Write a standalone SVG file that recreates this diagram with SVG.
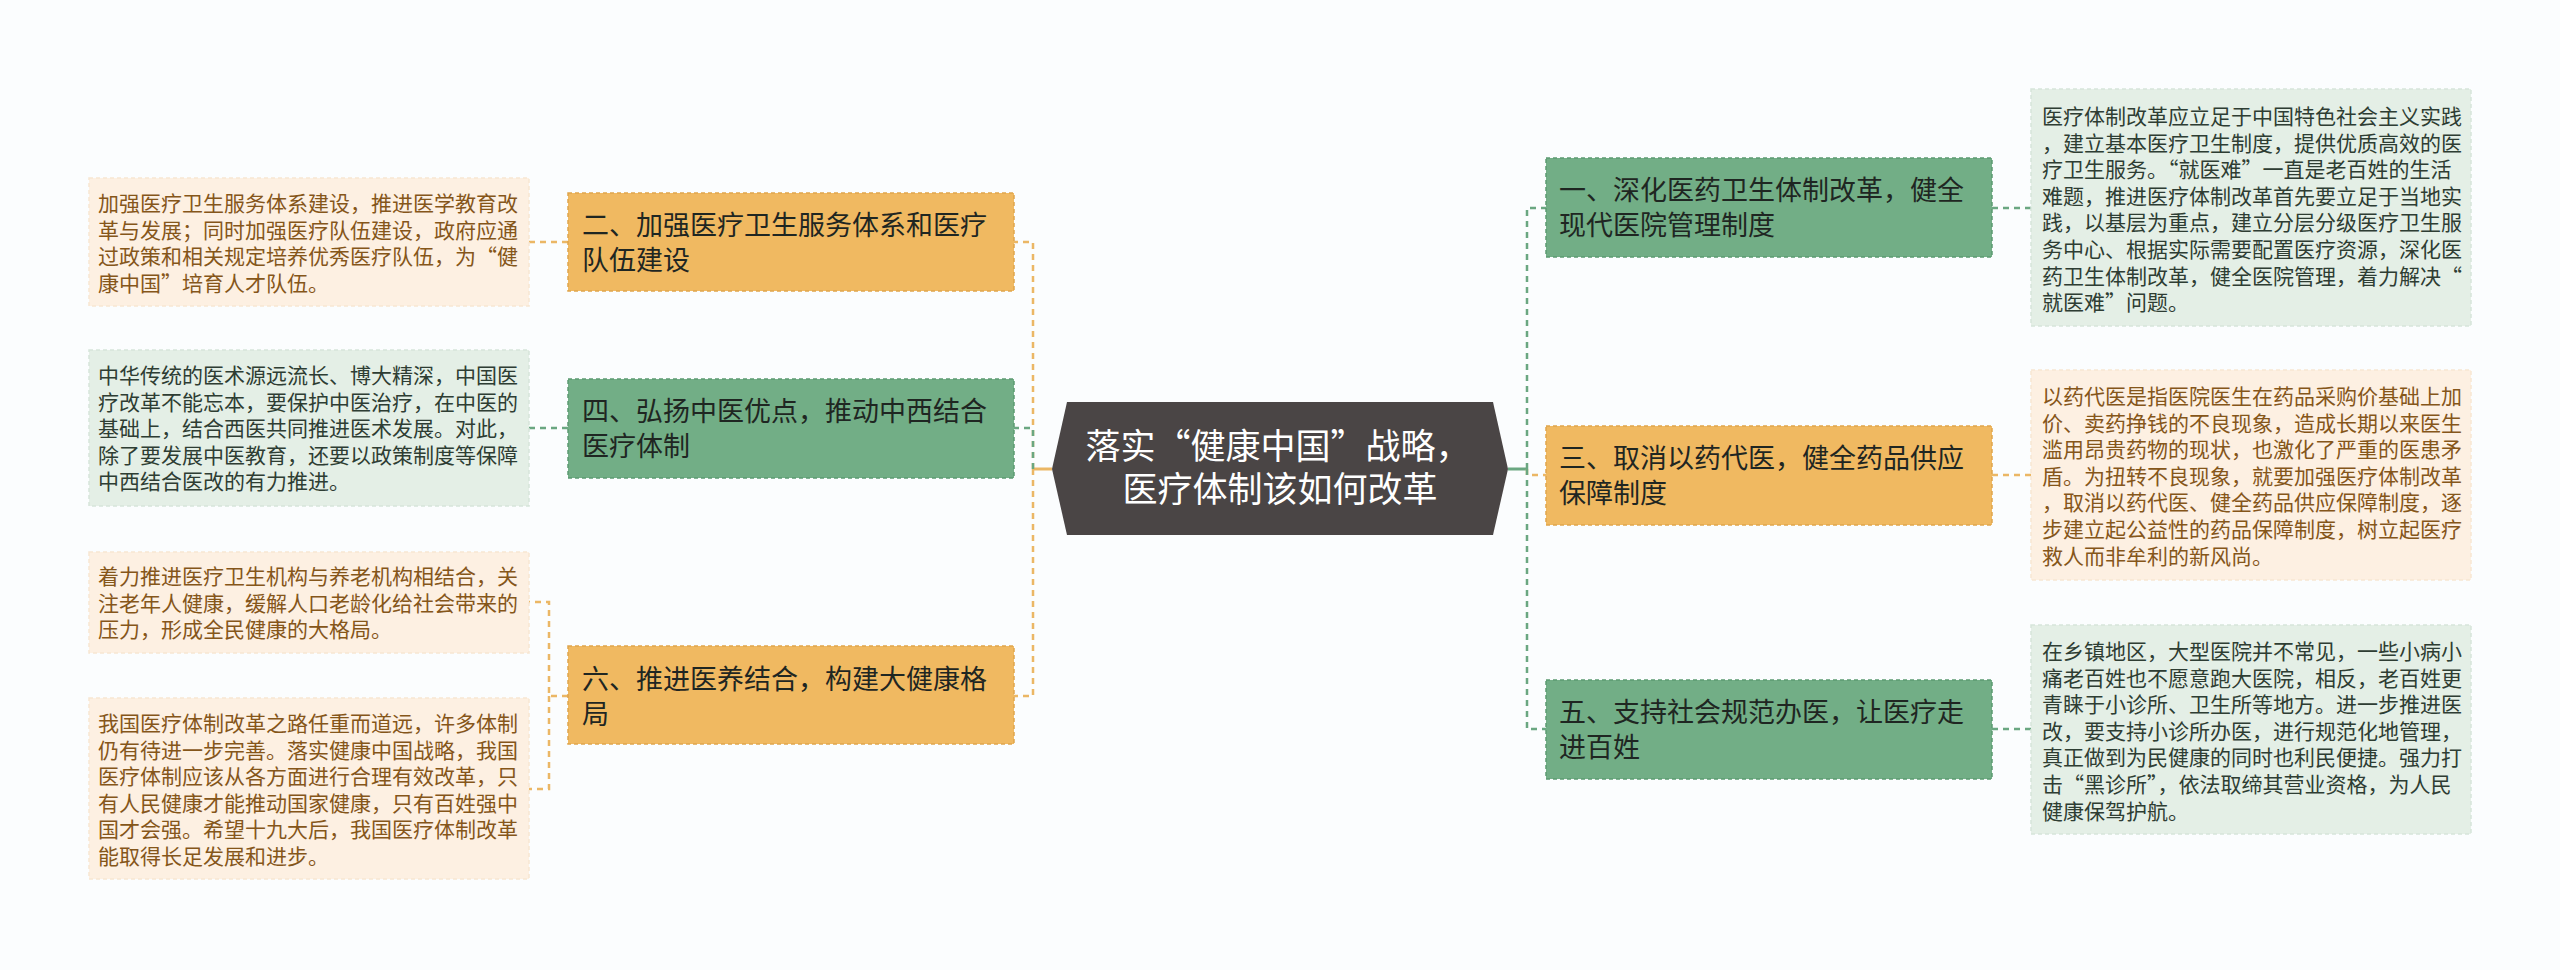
<svg xmlns="http://www.w3.org/2000/svg" width="2560" height="970" viewBox="0 0 2560 970">
<style>
text{font-family:"Noto Sans CJK SC","Noto Sans",sans-serif;}
.mo{fill:#F0B961;stroke:#DFA54C;stroke-width:1.5;stroke-dasharray:4 3;}
.mg{fill:#72AE86;stroke:#5C9A72;stroke-width:1.5;stroke-dasharray:4 3;}
.lo{fill:#FDF0E2;stroke:#F7E6D2;stroke-width:1.5;stroke-dasharray:4 3;}
.lg{fill:#E4EFE6;stroke:#D6E5DA;stroke-width:1.5;stroke-dasharray:4 3;}
.mt{font-size:27px;fill:#1F2622;}
.lto{font-size:21px;fill:#85561A;}
.ltg{font-size:21px;fill:#2E3D33;}
.ct{font-size:35px;fill:#FFFFFF;text-anchor:middle;}
.co{fill:none;stroke:#EBB765;stroke-width:2.5;stroke-dasharray:6 5;}
.cg{fill:none;stroke:#6AA781;stroke-width:2.5;stroke-dasharray:6 5;}
.so{fill:none;stroke:#EBB765;stroke-width:3;}
.sg{fill:none;stroke:#6AA781;stroke-width:3;}
</style>
<rect width="2560" height="970" fill="#FBFDFE"/>
<g id="connectors">
<path class="so" d="M1052,469 H1033"/>
<path class="co" d="M1033,469 V242 H1014"/>
<path class="co" d="M1033,469 V696 H1014"/>
<path class="cg" d="M1033,469 V428 H1014"/>
<path class="co" d="M568,242 H529"/>
<path class="cg" d="M568,428 H529"/>
<path class="co" d="M568,696 H549 V602 H529"/>
<path class="co" d="M549,696 V789 H529"/>
<path class="sg" d="M1508,469 H1527"/>
<path class="co" d="M1527,469 V475 H1546"/>
<path class="cg" d="M1527,469 V208 H1546"/>
<path class="cg" d="M1527,469 V729 H1546"/>
<path class="cg" d="M1992,208 H2031"/>
<path class="co" d="M1992,475 H2031"/>
<path class="cg" d="M1992,729 H2031"/>
</g>
<g id="center">
<polygon points="1052,469 1067,402 1493,402 1508,469 1493,535 1067,535" fill="#4A4545"/>
<text class="ct"><tspan x="1278" y="459">落实“健康中国”战略，</tspan><tspan x="1280" y="502">医疗体制该如何改革</tspan></text>
</g>
<g id="n2">
<rect class="mo" x="568" y="193" width="446" height="98"/>
<text class="mt"><tspan x="582" y="235">二、加强医疗卫生服务体系和医疗</tspan><tspan x="582" y="270">队伍建设</tspan></text>
</g>
<g id="n2-leaf">
<rect class="lo" x="89" y="178" width="440" height="128"/>
<text class="lto"><tspan x="98" y="211">加强医疗卫生服务体系建设，推进医学教育改</tspan><tspan x="98" y="237.6">革与发展；同时加强医疗队伍建设，政府应通</tspan><tspan x="98" y="264.2">过政策和相关规定培养优秀医疗队伍，为“健</tspan><tspan x="98" y="290.8">康中国”培育人才队伍。</tspan></text>
</g>
<g id="n4">
<rect class="mg" x="568" y="379" width="446" height="99"/>
<text class="mt"><tspan x="582" y="421">四、弘扬中医优点，推动中西结合</tspan><tspan x="582" y="456">医疗体制</tspan></text>
</g>
<g id="n4-leaf">
<rect class="lg" x="89" y="350" width="440" height="156"/>
<text class="ltg"><tspan x="98" y="383">中华传统的医术源远流长、博大精深，中国医</tspan><tspan x="98" y="409.6">疗改革不能忘本，要保护中医治疗，在中医的</tspan><tspan x="98" y="436.2">基础上，结合西医共同推进医术发展。对此，</tspan><tspan x="98" y="462.8">除了要发展中医教育，还要以政策制度等保障</tspan><tspan x="98" y="489.4">中西结合医改的有力推进。</tspan></text>
</g>
<g id="n6">
<rect class="mo" x="568" y="646" width="446" height="98"/>
<text class="mt"><tspan x="582" y="689">六、推进医养结合，构建大健康格</tspan><tspan x="582" y="724">局</tspan></text>
</g>
<g id="n6-leaf1">
<rect class="lo" x="89" y="552" width="440" height="101"/>
<text class="lto"><tspan x="98" y="584">着力推进医疗卫生机构与养老机构相结合，关</tspan><tspan x="98" y="610.6">注老年人健康，缓解人口老龄化给社会带来的</tspan><tspan x="98" y="637.2">压力，形成全民健康的大格局。</tspan></text>
</g>
<g id="n6-leaf2">
<rect class="lo" x="89" y="698" width="440" height="181"/>
<text class="lto"><tspan x="98" y="731">我国医疗体制改革之路任重而道远，许多体制</tspan><tspan x="98" y="757.6">仍有待进一步完善。落实健康中国战略，我国</tspan><tspan x="98" y="784.2">医疗体制应该从各方面进行合理有效改革，只</tspan><tspan x="98" y="810.8">有人民健康才能推动国家健康，只有百姓强中</tspan><tspan x="98" y="837.4">国才会强。希望十九大后，我国医疗体制改革</tspan><tspan x="98" y="864">能取得长足发展和进步。</tspan></text>
</g>
<g id="n1">
<rect class="mg" x="1546" y="158" width="446" height="99"/>
<text class="mt"><tspan x="1559" y="200">一、深化医药卫生体制改革，健全</tspan><tspan x="1559" y="235">现代医院管理制度</tspan></text>
</g>
<g id="n1-leaf">
<rect class="lg" x="2031" y="89" width="440" height="237"/>
<text class="ltg"><tspan x="2042" y="124">医疗体制改革应立足于中国特色社会主义实践</tspan><tspan x="2042" y="150.6">，建立基本医疗卫生制度，提供优质高效的医</tspan><tspan x="2042" y="177.2">疗卫生服务。“就医难”一直是老百姓的生活</tspan><tspan x="2042" y="203.8">难题，推进医疗体制改革首先要立足于当地实</tspan><tspan x="2042" y="230.4">践，以基层为重点，建立分层分级医疗卫生服</tspan><tspan x="2042" y="257">务中心、根据实际需要配置医疗资源，深化医</tspan><tspan x="2042" y="283.6">药卫生体制改革，健全医院管理，着力解决“</tspan><tspan x="2042" y="310.2">就医难”问题。</tspan></text>
</g>
<g id="n3">
<rect class="mo" x="1546" y="426" width="446" height="99"/>
<text class="mt"><tspan x="1559" y="468">三、取消以药代医，健全药品供应</tspan><tspan x="1559" y="503">保障制度</tspan></text>
</g>
<g id="n3-leaf">
<rect class="lo" x="2031" y="370" width="440" height="210"/>
<text class="lto"><tspan x="2042" y="404">以药代医是指医院医生在药品采购价基础上加</tspan><tspan x="2042" y="430.6">价、卖药挣钱的不良现象，造成长期以来医生</tspan><tspan x="2042" y="457.2">滥用昂贵药物的现状，也激化了严重的医患矛</tspan><tspan x="2042" y="483.8">盾。为扭转不良现象，就要加强医疗体制改革</tspan><tspan x="2042" y="510.4">，取消以药代医、健全药品供应保障制度，逐</tspan><tspan x="2042" y="537">步建立起公益性的药品保障制度，树立起医疗</tspan><tspan x="2042" y="563.6">救人而非牟利的新风尚。</tspan></text>
</g>
<g id="n5">
<rect class="mg" x="1546" y="680" width="446" height="99"/>
<text class="mt"><tspan x="1559" y="722">五、支持社会规范办医，让医疗走</tspan><tspan x="1559" y="757">进百姓</tspan></text>
</g>
<g id="n5-leaf">
<rect class="lg" x="2031" y="625" width="440" height="209"/>
<text class="ltg"><tspan x="2042" y="659">在乡镇地区，大型医院并不常见，一些小病小</tspan><tspan x="2042" y="685.6">痛老百姓也不愿意跑大医院，相反，老百姓更</tspan><tspan x="2042" y="712.2">青睐于小诊所、卫生所等地方。进一步推进医</tspan><tspan x="2042" y="738.8">改，要支持小诊所办医，进行规范化地管理，</tspan><tspan x="2042" y="765.4">真正做到为民健康的同时也利民便捷。强力打</tspan><tspan x="2042" y="792">击“黑诊所”，依法取缔其营业资格，为人民</tspan><tspan x="2042" y="818.6">健康保驾护航。</tspan></text>
</g>
</svg>
